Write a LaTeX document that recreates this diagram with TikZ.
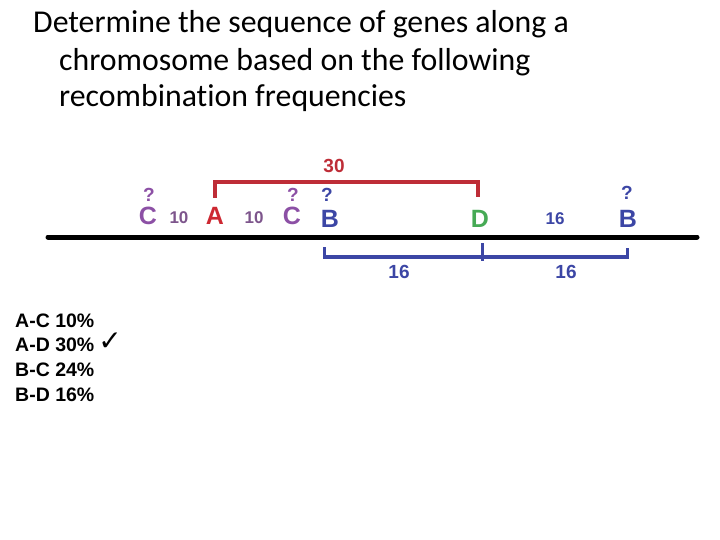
\documentclass[tikz,border=0pt]{standalone}
\usepackage{fontspec}
\setmainfont[Ligatures=NoCommon]{Carlito}
\newfontfamily\arialb{Liberation Sans Bold}
\newfontfamily\dejavu{DejaVu Sans}
\definecolor{cpurple}{RGB}{140,80,165}
\definecolor{cpurpnum}{RGB}{125,85,140}
\definecolor{cred}{RGB}{205,40,50}
\definecolor{cdred}{RGB}{190,45,55}
\definecolor{cblue}{RGB}{60,70,165}
\definecolor{cgreen}{RGB}{70,170,85}
\begin{document}
\begin{tikzpicture}[x=1pt,y=-1pt,
  gene/.style={font=\arialb\fontsize{25}{25}\selectfont, inner sep=0pt, anchor=base},
  qmark/.style={font=\arialb\fontsize{19}{19}\selectfont, inner sep=0pt, anchor=base},
  num/.style={font=\arialb\fontsize{17}{17}\selectfont, inner sep=0pt, anchor=base},
  bnum/.style={font=\arialb\fontsize{19}{19}\selectfont, inner sep=0pt, anchor=base},
  tab/.style={font=\arialb\fontsize{19.5}{19.5}\selectfont, inner sep=0pt, anchor=base west},
  tline/.style={anchor=base west, inner sep=0pt, font=\fontsize{31.8}{31.8}\selectfont}]
\useasboundingbox (0,0) rectangle (720,540);
\node[tline] (title1) at (33,33) {Determine the sequence of genes along a};
\node[tline] (title2) at (59,71) {chromosome based on the following};
\node[tline] (title3) at (59,107) {recombination frequencies};
% chromosome
\coordinate (L) at (48,237);
\coordinate (R) at (697,237);
\draw[line width=5pt, line cap=round] (L) -- (R);
% genes
\node[gene, text=cpurple] (c1) at (148,225) {C};
\node[qmark, text=cpurple] (q1) at (149,202) {?};
\node[num, text=cpurpnum] (n1) at (179,223) {10};
\node[gene, text=cred] (a) at (215,225) {A};
\node[num, text=cpurpnum] (n2) at (254,223) {10};
\node[gene, text=cpurple] (c2) at (292,225) {C};
\node[qmark, text=cpurple] (q2) at (293,202) {?};
\node[gene, text=cblue] (b1) at (330,228) {B};
\node[qmark, text=cblue] (q3) at (327,202) {?};
\node[gene, text=cgreen] (d) at (480,228) {D};
\node[num, text=cblue] (n3) at (555,225) {16};
\node[gene, text=cblue] (b2) at (628,228) {B};
\node[qmark, text=cblue] (q4) at (627,200) {?};
% red bracket
\coordinate (ra) at (215,198);
\coordinate (rd) at (478,197);
\draw[cdred, line width=4pt] (ra) -- (215,182) -- (478,182) -- (rd);
\node[bnum, text=cdred] (n30) at (334,173) {30};
% blue brackets
\coordinate (bl) at (324,257);
\coordinate (bm) at (482,257);
\coordinate (br) at (627,257);
\draw[cblue, line width=3.5pt] (bl) -- (br);
\draw[cblue, line width=3pt] (324,247) -- (324,259);
\draw[cblue, line width=3pt] (482,243) -- (482,261);
\draw[cblue, line width=3pt] (627,248) -- (627,259);
\node[bnum, text=cblue] (n4) at (399,278) {16};
\node[bnum, text=cblue] (n5) at (566,278) {16};
% table
\node[tab] (t1) at (15,327) {A-C 10\%};
\node[tab] (t2) at (15,351) {A-D 30\%};
\node[tab] (t3) at (15,376) {B-C 24\%};
\node[tab] (t4) at (15,401) {B-D 16\%};
\node[font=\dejavu\fontsize{28}{28}\selectfont, inner sep=0pt] (chk) at (110,342) {✓};
\end{tikzpicture}
\end{document}
